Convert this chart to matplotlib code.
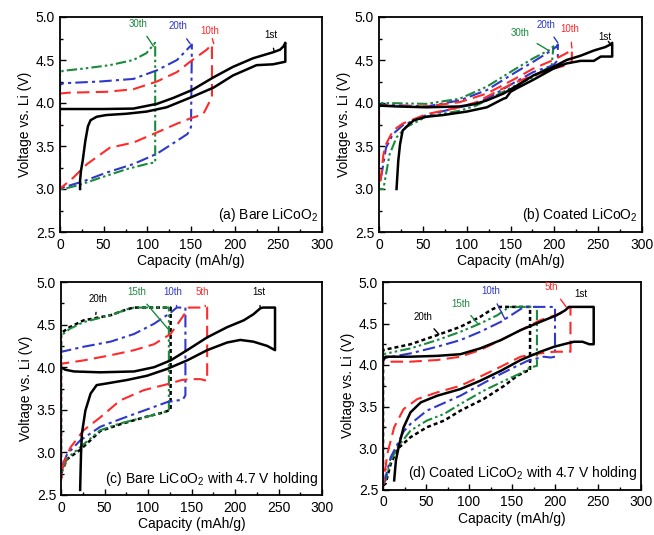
import matplotlib
matplotlib.use("Agg")
import matplotlib.pyplot as plt
from matplotlib.ticker import MultipleLocator

plt.rcParams['font.family'] = ['Liberation Sans', 'DejaVu Sans']
plt.rcParams['mathtext.default'] = 'regular'

RED = '#ff2a2a'
BLUE = '#3038c8'
GREEN = '#1a8a3c'
BLACK = '#000000'

# ---------------- Panel (a): Bare LiCoO2 ----------------
a1_cap = [0, 20, 50, 84, 111, 130, 151, 176, 198, 221, 244, 252, 256, 258, 258, 244, 225, 198, 176, 151, 122, 99, 76, 53, 42, 35, 32, 29, 26, 24, 23, 23]
a1_v = [3.93, 3.93, 3.93, 3.935, 3.99, 4.06, 4.15, 4.30, 4.42, 4.52, 4.59, 4.62, 4.66, 4.70, 4.48, 4.45, 4.44, 4.32, 4.18, 4.07, 3.95, 3.90, 3.875, 3.86, 3.84, 3.80, 3.73, 3.56, 3.33, 3.21, 3.10, 3.0]
a10_cap = [0, 0, 10, 53, 84, 111, 134, 149, 168, 174, 174, 164, 149, 134, 107, 84, 57, 31, 15, 2, 0]
a10_v = [3.0, 4.11, 4.12, 4.13, 4.16, 4.25, 4.36, 4.48, 4.62, 4.68, 4.07, 3.87, 3.82, 3.76, 3.64, 3.54, 3.48, 3.29, 3.13, 3.02, 3.0]
a20_cap = [0, 0, 4, 46, 84, 111, 134, 151, 150, 146, 137, 111, 84, 53, 27, 4, 0]
a20_v = [3.0, 4.21, 4.23, 4.25, 4.28, 4.38, 4.50, 4.68, 3.72, 3.64, 3.58, 3.41, 3.29, 3.19, 3.09, 3.02, 3.0]
a30_cap = [0, 0, 4, 27, 57, 84, 99, 109, 109, 99, 76, 46, 23, 4, 0]
a30_v = [3.0, 4.36, 4.375, 4.40, 4.44, 4.50, 4.58, 4.70, 3.31, 3.29, 3.23, 3.13, 3.05, 3.0, 3.0]

# ---------------- Panel (b): Coated LiCoO2 ----------------
b1_cap = [0, 20, 54, 92, 110, 123, 142, 157, 176, 199, 214, 230, 245, 258, 264, 266, 266, 253, 245, 230, 214, 199, 176, 157, 150, 145, 142, 123, 100, 73, 54, 40, 35, 27, 24, 22, 20]
b1_v = [3.97, 3.96, 3.95, 3.96, 3.99, 4.03, 4.11, 4.20, 4.32, 4.42, 4.50, 4.55, 4.61, 4.65, 4.68, 4.70, 4.54, 4.54, 4.49, 4.49, 4.46, 4.40, 4.27, 4.17, 4.13, 4.06, 4.05, 3.95, 3.90, 3.86, 3.84, 3.80, 3.76, 3.68, 3.52, 3.33, 3.0]
b10_cap = [0, 0, 5, 54, 92, 123, 153, 176, 199, 214, 220, 220, 214, 199, 176, 153, 130, 111, 92, 54, 27, 16, 8, 5, 2, 0]
b10_v = [3.1, 3.96, 3.97, 3.96, 4.01, 4.11, 4.27, 4.40, 4.50, 4.58, 4.62, 4.48, 4.44, 4.40, 4.32, 4.23, 4.11, 4.01, 3.95, 3.87, 3.76, 3.68, 3.52, 3.40, 3.10, 3.1]
b20_cap = [0, 0, 5, 54, 92, 123, 153, 176, 195, 203, 204, 204, 199, 176, 153, 130, 111, 92, 54, 27, 16, 8, 3, 0]
b20_v = [3.1, 3.98, 3.98, 3.96, 4.03, 4.15, 4.34, 4.48, 4.60, 4.66, 4.68, 4.50, 4.44, 4.36, 4.23, 4.09, 3.99, 3.95, 3.86, 3.74, 3.64, 3.48, 3.17, 3.1]
b30_cap = [0, 0, 5, 54, 92, 123, 153, 176, 195, 199, 197, 176, 153, 130, 111, 92, 54, 31, 20, 12, 5, 0]
b30_v = [3.0, 4.00, 4.00, 3.99, 4.05, 4.19, 4.38, 4.52, 4.62, 4.66, 4.44, 4.30, 4.19, 4.07, 3.97, 3.91, 3.84, 3.72, 3.60, 3.40, 3.0, 3.0]

# ---------------- Panel (c): Bare LiCoO2 with 4.7 V holding ----------------
c1_cap = [0, 5, 15, 45, 84, 107, 126, 145, 168, 191, 210, 221, 229, 232, 246, 246, 237, 221, 206, 191, 168, 145, 122, 99, 76, 53, 41, 34, 28, 24, 23, 22]
c1_v = [4.00, 3.97, 3.95, 3.94, 3.95, 4.00, 4.08, 4.20, 4.35, 4.47, 4.55, 4.62, 4.69, 4.70, 4.70, 4.20, 4.25, 4.30, 4.32, 4.29, 4.20, 4.08, 3.98, 3.90, 3.85, 3.81, 3.79, 3.69, 3.49, 3.22, 2.98, 2.56]
c5_cap = [0, 0, 26, 57, 84, 107, 126, 137, 143, 147, 168, 168, 160, 150, 139, 122, 95, 68, 45, 26, 11, 3, 0]
c5_v = [2.67, 4.04, 4.08, 4.14, 4.20, 4.27, 4.39, 4.55, 4.64, 4.70, 4.70, 3.84, 3.86, 3.86, 3.85, 3.80, 3.73, 3.61, 3.41, 3.26, 3.06, 2.87, 2.67]
c10_cap = [0, 0, 26, 57, 84, 107, 126, 133, 143, 143, 140, 122, 95, 68, 45, 22, 7, 1, 0]
c10_v = [2.75, 4.18, 4.24, 4.30, 4.39, 4.51, 4.64, 4.70, 4.70, 3.67, 3.62, 3.59, 3.49, 3.39, 3.30, 3.14, 2.98, 2.83, 2.75]
c15_cap = [0, 0, 10, 26, 57, 76, 84, 124, 124, 118, 95, 68, 45, 22, 7, 1, 0]
c15_v = [2.72, 4.37, 4.45, 4.53, 4.61, 4.68, 4.70, 4.70, 3.49, 3.47, 3.41, 3.34, 3.26, 3.06, 2.93, 2.77, 2.72]
c20_cap = [0, 0, 10, 26, 57, 76, 84, 126, 126, 118, 95, 68, 45, 22, 7, 1, 0]
c20_v = [2.70, 4.40, 4.47, 4.55, 4.61, 4.68, 4.70, 4.70, 3.50, 3.47, 3.41, 3.33, 3.25, 3.03, 2.92, 2.78, 2.70]

# ---------------- Panel (d): Coated LiCoO2 with 4.7 V holding ----------------
d1_cap = [0, 3, 32, 63, 90, 113, 137, 160, 183, 202, 212, 216, 245, 245, 240, 232, 222, 214, 199, 183, 160, 137, 113, 90, 63, 44, 32, 24, 19, 15, 13]
d1_v = [4.05, 4.10, 4.10, 4.11, 4.13, 4.20, 4.30, 4.42, 4.52, 4.60, 4.66, 4.70, 4.70, 4.25, 4.25, 4.28, 4.28, 4.26, 4.22, 4.16, 4.06, 3.93, 3.81, 3.71, 3.63, 3.55, 3.43, 3.25, 3.05, 2.85, 2.61]
d5_cap = [0, 0, 32, 63, 90, 113, 137, 160, 183, 206, 214, 218, 218, 206, 199, 183, 160, 137, 113, 90, 63, 40, 24, 13, 5, 1, 0]
d5_v = [2.55, 4.04, 4.04, 4.06, 4.10, 4.18, 4.30, 4.42, 4.54, 4.62, 4.68, 4.70, 4.16, 4.16, 4.16, 4.14, 4.10, 3.98, 3.86, 3.75, 3.67, 3.59, 3.47, 3.25, 2.93, 2.61, 2.55]
d10_cap = [0, 0, 32, 63, 90, 113, 137, 152, 164, 200, 200, 195, 187, 168, 152, 129, 90, 51, 32, 24, 17, 9, 3, 0]
d10_v = [2.55, 4.08, 4.14, 4.22, 4.30, 4.40, 4.52, 4.62, 4.70, 4.70, 4.10, 4.09, 4.10, 4.05, 3.97, 3.85, 3.63, 3.45, 3.29, 3.20, 3.05, 2.89, 2.65, 2.55]
d15_cap = [0, 0, 32, 63, 90, 113, 133, 144, 148, 179, 179, 171, 160, 141, 117, 90, 71, 51, 32, 17, 9, 3, 0]
d15_v = [2.55, 4.13, 4.20, 4.30, 4.40, 4.50, 4.60, 4.68, 4.70, 4.70, 3.99, 3.97, 3.90, 3.81, 3.69, 3.53, 3.41, 3.33, 3.21, 3.01, 2.85, 2.61, 2.55]
d20_cap = [0, 0, 32, 63, 90, 113, 125, 133, 171, 171, 168, 156, 141, 117, 90, 71, 51, 32, 17, 9, 3, 0]
d20_v = [2.55, 4.18, 4.25, 4.36, 4.46, 4.58, 4.66, 4.70, 4.70, 3.93, 3.93, 3.87, 3.75, 3.59, 3.45, 3.33, 3.25, 3.13, 2.99, 2.81, 2.57, 2.55]

# line styles
LS_SOLID = '-'
LS_DASH = (0, (6, 3))
LS_DASHDOT = (0, (6, 2, 1.5, 2))
LS_DASHDOTDOT = (0, (5, 1.5, 1.2, 1.5, 1.2, 1.5))
LS_DOT = (0, (1.6, 1.2))

fig = plt.figure(figsize=(6.54, 5.35), dpi=100)

positions = {
    'a': [60 / 654, 1 - 232 / 535, 262 / 654, 215 / 535],
    'b': [379 / 654, 1 - 232 / 535, 263 / 654, 215 / 535],
    'c': [61 / 654, 1 - 495 / 535, 261 / 654, 213 / 535],
    'd': [383 / 654, 1 - 489.5 / 535, 258 / 654, 207.5 / 535],
}


def style_axes(ax, title):
    ax.set_xlim(0, 300)
    ax.set_ylim(2.5, 5.0)
    ax.xaxis.set_major_locator(MultipleLocator(50))
    ax.xaxis.set_minor_locator(MultipleLocator(25))
    ax.yaxis.set_major_locator(MultipleLocator(0.5))
    ax.yaxis.set_minor_locator(MultipleLocator(0.25))
    ax.tick_params(which='both', direction='in', top=False, right=False, labelsize=10)
    ax.tick_params(which='major', length=4, width=1)
    ax.tick_params(which='minor', length=2.5, width=1)
    ax.tick_params(axis='x', pad=4)
    for s in ax.spines.values():
        s.set_linewidth(1.3)
    ax.set_xlabel('Capacity (mAh/g)', fontsize=10, labelpad=2)
    ax.set_ylabel('Voltage vs. Li (V)', fontsize=10, labelpad=3)
    ax.yaxis.set_major_formatter(matplotlib.ticker.FormatStrFormatter('%.1f'))
    ax.text(0.985, 0.035, title, transform=ax.transAxes, ha='right', va='bottom', fontsize=10,
            bbox=dict(facecolor='white', edgecolor='none', pad=0.5))


def label(ax, text, color, xy_text, xy_pt):
    ax.annotate(text, xy=xy_pt, xytext=xy_text, color=color, fontsize=7, ha='center', va='center',
                arrowprops=dict(arrowstyle='-', color=color, lw=1, shrinkA=4, shrinkB=0))


# ---- (a)
ax = fig.add_axes(positions['a'])
ax.plot(a30_cap, a30_v, color=GREEN, ls=LS_DASHDOTDOT, lw=1.5)
ax.plot(a20_cap, a20_v, color=BLUE, ls=LS_DASHDOT, lw=1.5)
ax.plot(a10_cap, a10_v, color=RED, ls=LS_DASH, lw=1.5)
ax.plot(a1_cap, a1_v, color=BLACK, ls=LS_SOLID, lw=1.8)
style_axes(ax, '(a) Bare LiCoO$_2$')
label(ax, '30th', GREEN, (90, 4.92), (107, 4.66))
label(ax, '20th', BLUE, (135, 4.89), (149, 4.69))
label(ax, '10th', RED, (172, 4.84), (176, 4.69))
label(ax, '1st', BLACK, (241, 4.79), (245, 4.61))

# ---- (b)
ax = fig.add_axes(positions['b'])
ax.plot(b30_cap, b30_v, color=GREEN, ls=LS_DASHDOTDOT, lw=1.5)
ax.plot(b20_cap, b20_v, color=BLUE, ls=LS_DASHDOT, lw=1.5)
ax.plot(b10_cap, b10_v, color=RED, ls=LS_DASH, lw=1.5)
ax.plot(b1_cap, b1_v, color=BLACK, ls=LS_SOLID, lw=1.8)
style_axes(ax, '(b) Coated LiCoO$_2$')
label(ax, '30th', GREEN, (161, 4.81), (192, 4.62))
label(ax, '20th', BLUE, (190, 4.91), (204, 4.70))
label(ax, '10th', RED, (218, 4.86), (220, 4.64))
label(ax, '1st', BLACK, (258, 4.77), (264, 4.68))

# ---- (c)
ax = fig.add_axes(positions['c'])
ax.plot(c20_cap, c20_v, color=BLACK, ls=LS_DOT, lw=1.8)
ax.plot(c15_cap, c15_v, color=GREEN, ls=LS_DASHDOTDOT, lw=1.5)
ax.plot(c10_cap, c10_v, color=BLUE, ls=LS_DASHDOT, lw=1.5)
ax.plot(c5_cap, c5_v, color=RED, ls=LS_DASH, lw=1.5)
ax.plot(c1_cap, c1_v, color=BLACK, ls=LS_SOLID, lw=1.8)
style_axes(ax, '(c) Bare LiCoO$_2$ with 4.7 V holding')
label(ax, '20th', BLACK, (42, 4.80), (40, 4.62))
label(ax, '15th', GREEN, (87, 4.88), (123, 4.45))
label(ax, '10th', BLUE, (129, 4.88), (133, 4.71))
label(ax, '5th', RED, (162, 4.88), (166, 4.71))
label(ax, '1st', BLACK, (227, 4.88), (229, 4.70))

# ---- (d)
ax = fig.add_axes(positions['d'])
ax.plot(d20_cap, d20_v, color=BLACK, ls=LS_DOT, lw=1.8)
ax.plot(d15_cap, d15_v, color=GREEN, ls=LS_DASHDOTDOT, lw=1.5)
ax.plot(d10_cap, d10_v, color=BLUE, ls=LS_DASHDOT, lw=1.5)
ax.plot(d5_cap, d5_v, color=RED, ls=LS_DASH, lw=1.5)
ax.plot(d1_cap, d1_v, color=BLACK, ls=LS_SOLID, lw=1.8)
style_axes(ax, '(d) Coated LiCoO$_2$ with 4.7 V holding')
label(ax, '20th', BLACK, (47, 4.58), (65, 4.37))
label(ax, '15th', GREEN, (90, 4.74), (111, 4.49))
label(ax, '10th', BLUE, (125, 4.89), (142, 4.55))
label(ax, '5th', RED, (196, 4.94), (213, 4.70))
label(ax, '1st', BLACK, (230, 4.85), (240, 4.70))

fig.savefig('out.png', dpi=100)
